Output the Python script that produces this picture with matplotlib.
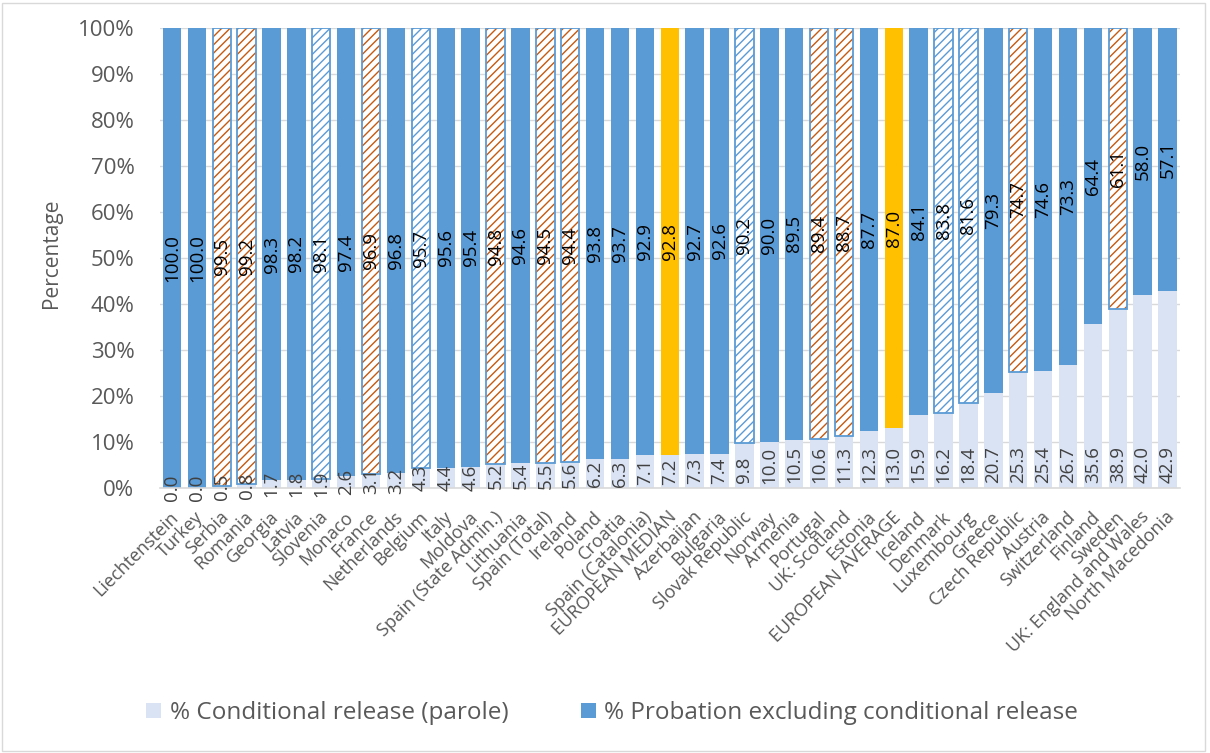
import numpy as np
import matplotlib.pyplot as plt
import matplotlib.transforms as mtransforms
from matplotlib.patches import Patch, Rectangle

plt.rcParams['font.family'] = ['Open Sans', 'DejaVu Sans']
plt.rcParams['hatch.linewidth'] = 1.0

categories = [
    "Liechtenstein", "Turkey", "Serbia", "Romania", "Georgia", "Latvia", "Slovenia",
    "Monaco", "France", "Netherlands", "Belgium", "Italy", "Moldova",
    "Spain (State Admin.)", "Lithuania", "Spain (Total)", "Ireland", "Poland",
    "Croatia", "Spain (Catalonia)", "EUROPEAN MEDIAN", "Azerbaijan", "Bulgaria",
    "Slovak Republic", "Norway", "Armenia", "Portugal", "UK: Scotland", "Estonia",
    "EUROPEAN AVERAGE", "Iceland", "Denmark", "Luxembourg", "Greece",
    "Czech Republic", "Austria", "Switzerland", "Finland", "Sweden",
    "UK: England and Wales", "North Macedonia",
]
parole = [
    0.0, 0.0, 0.5, 0.8, 1.7, 1.8, 1.9, 2.6, 3.1, 3.2, 4.3, 4.4, 4.6, 5.2, 5.4,
    5.5, 5.6, 6.2, 6.3, 7.1, 7.2, 7.3, 7.4, 9.8, 10.0, 10.5, 10.6, 11.3, 12.3,
    13.0, 15.9, 16.2, 18.4, 20.7, 25.3, 25.4, 26.7, 35.6, 38.9, 42.0, 42.9,
]
probation = [
    100.0, 100.0, 99.5, 99.2, 98.3, 98.2, 98.1, 97.4, 96.9, 96.8, 95.7, 95.6,
    95.4, 94.8, 94.6, 94.5, 94.4, 93.8, 93.7, 92.9, 92.8, 92.7, 92.6, 90.2,
    90.0, 89.5, 89.4, 88.7, 87.7, 87.0, 84.1, 83.8, 81.6, 79.3, 74.7, 74.6,
    73.3, 64.4, 61.1, 58.0, 57.1,
]
orange_hatched = ["Serbia", "Romania", "France", "Spain (State Admin.)",
                  "Spain (Total)", "Ireland", "Portugal", "UK: Scotland",
                  "Czech Republic", "Sweden"]
blue_hatched = ["Slovenia", "Belgium", "Slovak Republic", "Denmark", "Luxembourg"]
benchmarks = ["EUROPEAN MEDIAN", "EUROPEAN AVERAGE"]

LIGHT = "#dae3f3"
BLUE = "#5b9bd5"
ORANGE = "#c55a11"
GOLD = "#ffc000"
GREY = "#595959"

fig = plt.figure(figsize=(12.1, 7.53), dpi=100)
ax = fig.add_axes([159.5 / 1210, 1 - 488 / 753, (1180 - 159.5) / 1210, 460 / 753])

x = np.arange(len(categories))
w = 0.74
ax.bar(x, parole, w, color=LIGHT, zorder=2)

for i, name in enumerate(categories):
    if name in orange_hatched or name in blue_hatched:
        hc = ORANGE if name in orange_hatched else BLUE
        ax.bar(i, probation[i], w, bottom=parole[i], facecolor="white",
               edgecolor=hc, hatch="////", linewidth=0, zorder=2)
        ax.bar(i, probation[i], w, bottom=parole[i], fill=False,
               edgecolor=BLUE, linewidth=1.3, zorder=3)
    elif name in benchmarks:
        ax.bar(i, probation[i], w, bottom=parole[i], color=GOLD, zorder=2)
    else:
        ax.bar(i, probation[i], w, bottom=parole[i], color=BLUE, zorder=2)

ax.set_xlim(-0.5, len(categories) - 0.5)
ax.set_ylim(0, 100)

# top segment labels: centred
for i in range(len(categories)):
    ax.text(i, parole[i] + probation[i] / 2, f"{probation[i]:.1f}", rotation=90,
            ha="center", va="center", fontsize=13.5, color="black", zorder=4)

# bottom segment labels: inside base, centred when they do not fit
renderer = fig.canvas.get_renderer()
px_per_unit = 460 / 100
pad = 5 / px_per_unit
for i in range(len(categories)):
    t = ax.text(i, parole[i] / 2, f"{parole[i]:.1f}", rotation=90, ha="center",
                va="center", fontsize=13.5, color="#404040", zorder=4)
    length = t.get_window_extent(renderer).height / px_per_unit
    if length + 2 * pad <= parole[i]:
        t.set_y(pad)
        t.set_va("bottom")

ax.set_yticks(np.arange(0, 101, 10))
ax.set_yticklabels([f"{v}%" for v in range(0, 101, 10)])
ax.grid(axis="y", color="#d9d9d9", linewidth=1, zorder=0)
ax.set_axisbelow(True)
for s in ["top", "right", "left"]:
    ax.spines[s].set_visible(False)
ax.spines["bottom"].set_color("#d9d9d9")
ax.spines["bottom"].set_linewidth(1.2)
ax.tick_params(axis="y", length=0, pad=18, labelsize=16, labelcolor=GREY)
ax.tick_params(axis="x", length=0, pad=19, labelsize=13, labelcolor=GREY)
ax.set_xticks(x)
ax.set_xticklabels(categories, rotation=45, ha="right", va="center",
                   rotation_mode="anchor")
shift = mtransforms.ScaledTranslation(4 / 100, 0, fig.dpi_scale_trans)
for lab in ax.get_xticklabels():
    lab.set_transform(lab.get_transform() + shift)

ax.set_ylabel("Percentage", fontsize=15, color=GREY)
ax.yaxis.set_label_coords(-0.0955, 0.51)

handles = [Patch(facecolor=LIGHT, label="% Conditional release (parole)"),
           Patch(facecolor=BLUE, label="% Probation excluding conditional release")]
fig.legend(handles=handles, loc="center", bbox_to_anchor=(0.506, 1 - 713 / 753),
           ncol=2, frameon=False, fontsize=17.5, labelcolor=GREY,
           handlelength=0.6, handleheight=0.6, handletextpad=0.35,
           columnspacing=3.0)

fig.add_artist(Rectangle((0.002, 0.002), 0.994, 0.994, transform=fig.transFigure,
                         fill=False, edgecolor="#d9d9d9", linewidth=1))

fig.savefig("out.png", dpi=100)
